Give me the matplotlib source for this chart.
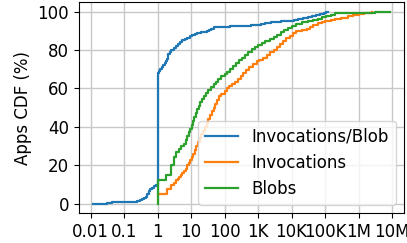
import matplotlib
matplotlib.use("Agg")
import matplotlib.pyplot as plt

# Invocations/Blob CDF
ipb_x = [0.012, 0.03, 0.045, 0.1, 0.2, 0.25, 0.3, 0.35, 0.4, 0.45, 0.5, 0.55, 0.6, 0.7, 0.8, 0.9,
         1.0, 1.05, 1.1, 1.2, 1.35, 1.5, 1.65, 1.8, 1.95, 2.0, 2.3, 2.6, 3.0, 3.5, 4.0, 4.7, 5.5, 6.5,
         7.5, 9, 11, 13, 15, 20, 25, 30, 35, 40, 50, 60, 80, 150, 300, 600, 900, 1200, 1600, 2500,
         4000, 5000, 8000, 12000, 16000, 22000, 30000, 40000, 55000, 70000, 90000, 110000, 123000]
ipb_y = [0, 0.3, 0.7, 0.8, 1, 1.3, 1.8, 2.3, 2.8, 3.5, 5, 6.5, 7.5, 8.3, 9, 9.5,
         67, 68, 69, 70, 71, 72, 73, 74, 75.5, 78, 79, 80, 81, 82, 83, 84, 85, 85.7,
         86.3, 87, 87.7, 88.5, 89, 89.2, 89.4, 89.8, 90.5, 91, 91.7, 92, 92.2, 92.4, 92.6, 92.8, 93.2, 93.6, 94, 94.3,
         94.5, 95, 95.3, 95.7, 96.2, 96.7, 97.2, 97.7, 98.2, 98.7, 99.2, 99.6, 100]

# Invocations CDF
inv_x = [1, 1.9, 2.5, 3.0, 3.5, 4, 4.5, 5, 5.5, 6, 7, 7.6, 8.5, 9.5, 10.5, 11.5, 13, 14, 16, 18, 20,
         23, 26, 30, 33, 37, 42, 47, 53, 60, 70, 80, 100, 120, 140, 170, 200, 250, 300, 360, 450, 550,
         700, 900, 1100, 1400, 1800, 2300, 3000, 3600, 4500, 5500, 7000, 9000, 11000, 14000, 20000,
         28000, 35000, 45000, 60000, 80000, 100000, 150000, 200000, 300000, 500000, 700000, 1000000,
         1500000, 2000000, 2500000]
inv_y = [5, 7.8, 9.5, 10.5, 12, 13, 14, 15, 16, 17, 18, 20, 21, 22.5, 24, 26, 28, 30, 32, 34, 36,
         38, 40, 42, 44, 46, 48, 50, 52, 54, 56, 57, 58.5, 60, 61, 62, 63.5, 65, 66.5, 68, 69.5, 71,
         72.5, 74, 75, 76, 77.5, 79, 80, 81.5, 83, 84.5, 86, 87.5, 89, 90, 90.5,
         91, 92, 93, 94, 94.7, 95.3, 95.8, 96.2, 96.8, 97.5, 98, 98.5,
         99, 99.4, 100]

# Blobs CDF
blob_x = [1.0, 1.0001, 1.8, 2.5, 3.0, 3.5, 4.3, 5, 6, 7, 7.8, 8.5, 9.5, 10.5, 11.5, 12.5, 14, 15.5,
          17, 19, 21, 24, 28, 33, 40, 47, 55, 65, 80, 100, 120, 150, 180, 220, 270, 330, 400, 500,
          650, 800, 1000, 1300, 1600, 2200, 3000, 3800, 4800, 6000, 8000, 10000, 14000, 20000, 30000,
          45000, 60000, 80000, 110000, 150000, 200000, 300000, 1000000, 3000000, 8700000]
blob_y = [0, 12, 15, 20, 24, 27, 28.5, 30, 31, 33, 35, 37, 39, 41, 43, 45, 47, 49,
          51, 53, 54.5, 56, 57.5, 59, 60.5, 62, 63.5, 65, 66.3, 67.5, 68.5, 70, 71.5, 73, 74.5, 76, 77.5, 79,
          80.5, 81.5, 82.5, 83.5, 84.5, 85.5, 86.5, 88, 89.5, 90.5, 91.5, 92.5, 93.5, 94.3, 95,
          95.7, 96.3, 97, 97.7, 98.3, 99, 99.3, 99.5, 99.7, 100]

tick_vals = [0.01, 0.1, 1, 10, 100, 1e3, 1e4, 1e5, 1e6, 1e7]
tick_labels = ["0.01", "0.1", "1", "10", "100", "1K", "10K", "100K", "1M", "10M"]

fig = plt.figure(figsize=(4.07, 2.43), dpi=100)
ax = fig.add_axes([0.194, 0.123, 0.799, 0.869])
ax.plot(ipb_x, ipb_y, drawstyle="steps-post", color="#1f77b4", lw=1.6, label="Invocations/Blob")
ax.plot(inv_x, inv_y, drawstyle="steps-post", color="#ff7f0e", lw=1.6, label="Invocations")
ax.plot(blob_x, blob_y, drawstyle="steps-post", color="#2ca02c", lw=1.6, label="Blobs")
ax.set_xscale("log")
ax.set_xlim(0.0045, 2.3e7)
ax.set_ylim(-5, 105)
ax.set_xticks(tick_vals)
ax.set_xticklabels(tick_labels)
ax.minorticks_off()
ax.set_yticks([0, 20, 40, 60, 80, 100])
ax.tick_params(labelsize=12)
ax.set_ylabel("Apps CDF (%)", fontsize=12)
ax.grid(True, color="#c8c8c8", lw=1)
ax.legend(loc="lower right", fontsize=12)
fig.savefig("out.png", dpi=100)
